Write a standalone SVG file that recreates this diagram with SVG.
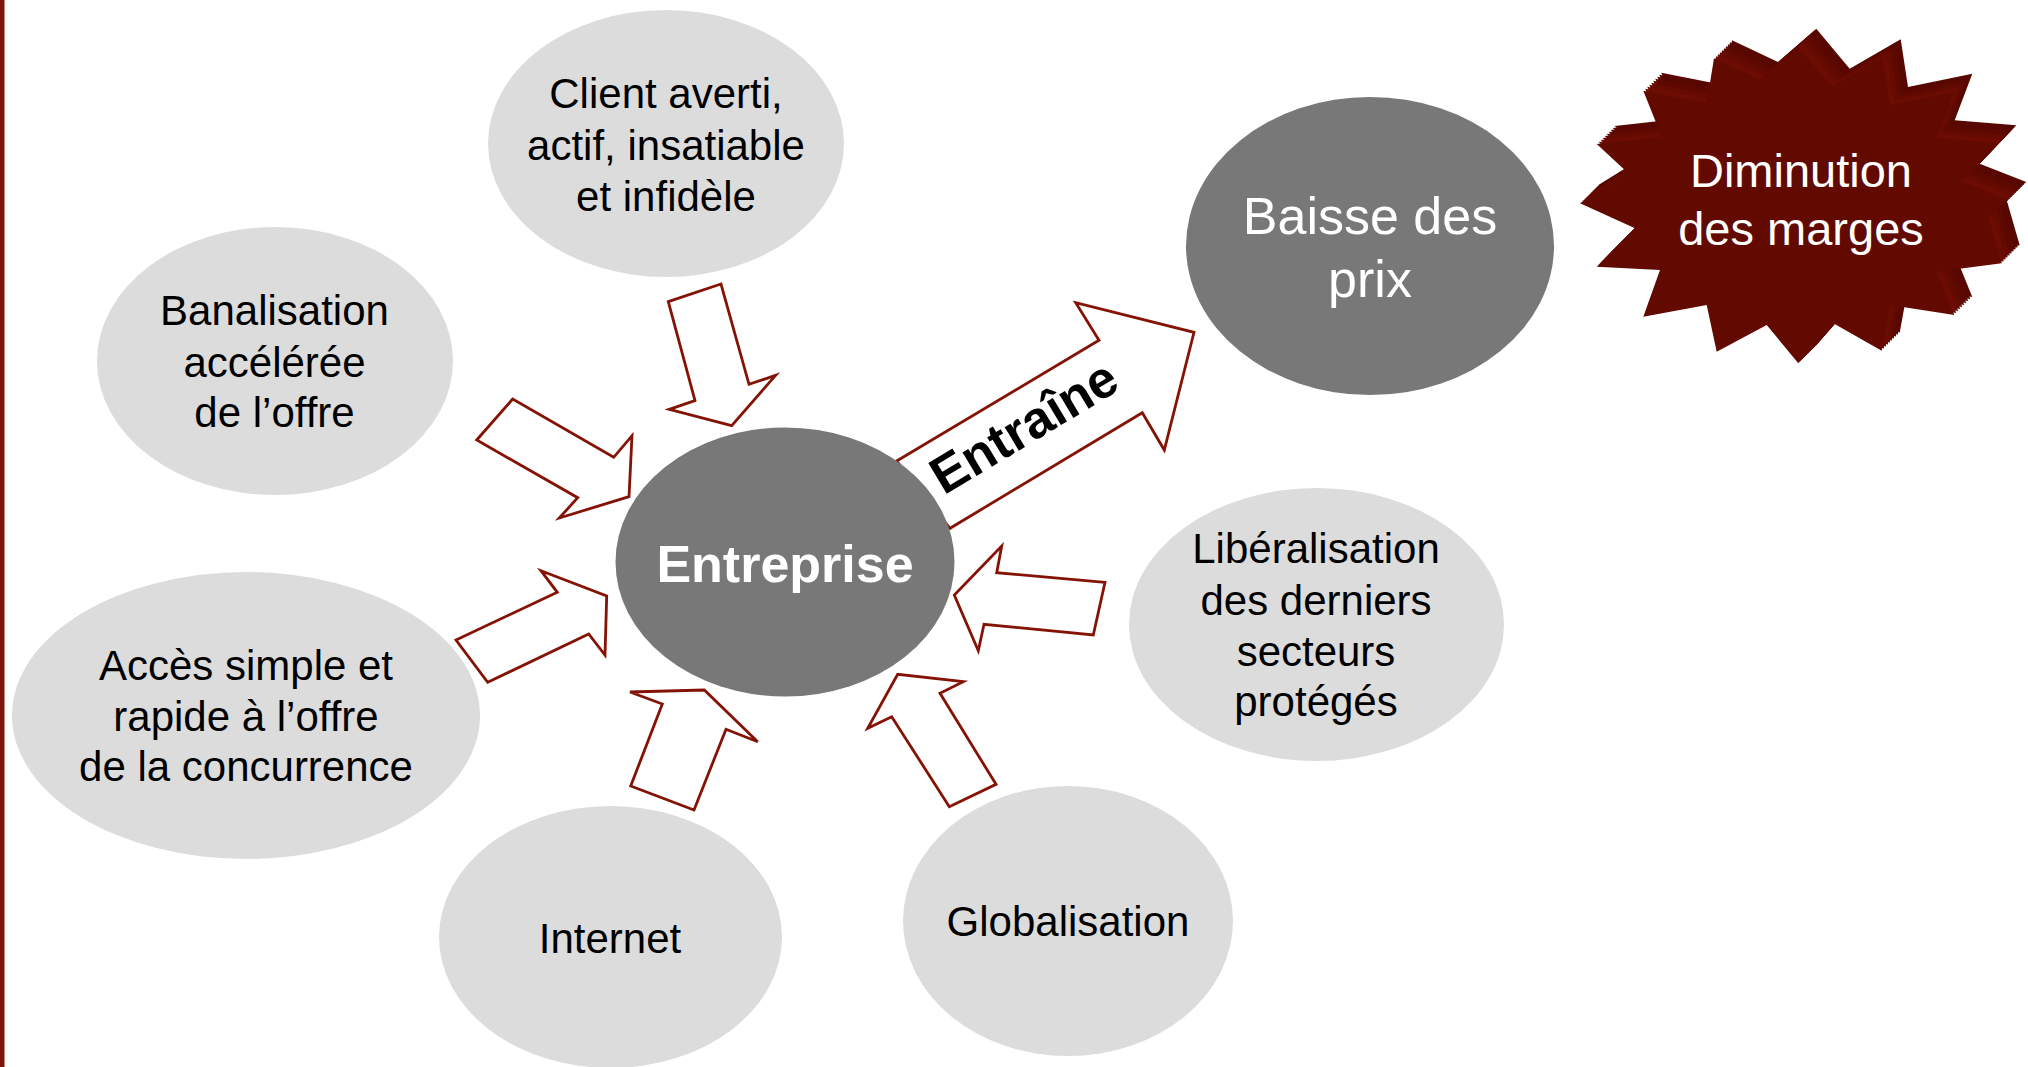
<svg xmlns="http://www.w3.org/2000/svg" xmlns:xlink="http://www.w3.org/1999/xlink" width="2028" height="1067" viewBox="0 0 2028 1067">
<style>
.light{fill:#dcdcdc;}
.dark{fill:#787878;}
.arrow{fill:#ffffff;stroke:#841306;stroke-width:2.8;stroke-linejoin:miter;}
.t{font-family:"Liberation Sans",Arial,sans-serif;font-size:42px;fill:#000;text-anchor:middle;}
.tw{font-family:"Liberation Sans",Arial,sans-serif;fill:#fff;text-anchor:middle;}
.side{fill:#580800;}
</style>
<defs>
<polygon id="star" points="1798.3,46.7 1831.7,86.7 1882.7,57.3 1890,105 1954.3,91.7 1936.7,138.3 1998.3,143.3 1961.7,181.7 2008.3,200 1988.3,216.7 2001.7,263.3 1936.7,271.7 1954.3,315 1890,305 1881.7,350.7 1833.3,323.3 1798.3,363.3 1766.7,325 1716.7,351.7 1706.7,305 1643.3,316.7 1660,270 1596.7,266.7 1635,228.3 1580,203.3 1628.3,173.3 1596.7,144 1661.7,136.7 1643.3,90.7 1706.7,103.3 1714,58.3 1760,80"/>
</defs>
<rect x="0" y="0" width="2028" height="1067" fill="#ffffff"/>
<rect x="0" y="0" width="4.5" height="1067" fill="#7f1509"/>

<g id="connectors">
<polygon class="arrow" points="896.7,461 1099,340.3 1075.7,302.7 1194,332.3 1164.3,450 1142.3,412.7 950,528.3"/>
<text class="tw" style="fill:#000;font-weight:bold;font-size:52px" transform="translate(1033,442) rotate(-31)" x="0" y="0">Entraîne</text>
<polygon class="arrow" points="512.7,399 476.7,440 577.7,497.7 559.3,518 629,496.7 632,435.7 613.7,457.3"/>
<polygon class="arrow" points="668.3,301.7 721,284 749,384.3 775.7,375.3 731.7,425.7 669.3,409.3 695,400.7"/>
<polygon class="arrow" points="456,640 557.3,592.3 541,570.7 606.7,596 605,655 588.7,634 487.7,682.3"/>
<polygon class="arrow" points="630.7,786 662.3,704 630,692 704.3,690 757.7,741.7 726,729.3 694,810"/>
<polygon class="arrow" points="996,784.3 940,693.3 963.3,681.7 897.7,674.3 867.7,728.3 891.7,716.7 949.3,806.7"/>
<polygon class="arrow" points="1105,582.3 996.7,572.7 1001.7,546 954.3,595 978.3,650.7 984,624.3 1093.3,635"/>
</g>

<g id="node-client">
<ellipse class="light" cx="666" cy="143.5" rx="178" ry="133.5"/>
<text class="t" x="666" y="107.5">Client averti,</text>
<text class="t" x="666" y="159.5">actif, insatiable</text>
<text class="t" x="666" y="210.5">et infidèle</text>
</g>

<g id="node-banalisation">
<ellipse class="light" cx="275" cy="361" rx="178" ry="134"/>
<text class="t" x="274.5" y="325">Banalisation</text>
<text class="t" x="274.5" y="376.5">accélérée</text>
<text class="t" x="274.5" y="427">de l’offre</text>
</g>

<g id="node-acces">
<ellipse class="light" cx="246" cy="715.5" rx="234" ry="143.5"/>
<text class="t" x="246" y="680">Accès simple et</text>
<text class="t" x="246" y="731">rapide à l’offre</text>
<text class="t" x="246" y="781">de la concurrence</text>
</g>

<g id="node-internet">
<ellipse class="light" cx="610.5" cy="937" rx="171.5" ry="131"/>
<text class="t" x="610" y="953">Internet</text>
</g>

<g id="node-globalisation">
<ellipse class="light" cx="1068" cy="921" rx="165" ry="135"/>
<text class="t" x="1068" y="936">Globalisation</text>
</g>

<g id="node-liberalisation">
<ellipse class="light" cx="1316.5" cy="624.5" rx="187.5" ry="136.5"/>
<text class="t" x="1316" y="563">Libéralisation</text>
<text class="t" x="1316" y="615">des derniers</text>
<text class="t" x="1316" y="666">secteurs</text>
<text class="t" x="1316" y="716">protégés</text>
</g>

<g id="node-entreprise">
<ellipse class="dark" cx="785" cy="562" rx="169.5" ry="134.5"/>
<text class="tw" x="785" y="582" style="font-size:52px;font-weight:bold">Entreprise</text>
</g>

<g id="node-baisse">
<ellipse class="dark" cx="1370" cy="246" rx="184" ry="149"/>
<text class="tw" x="1370" y="234" style="font-size:52px">Baisse des</text>
<text class="tw" x="1370" y="297" style="font-size:52px">prix</text>
</g>

<g id="node-diminution">
<use xlink:href="#star" class="side" transform="translate(18,-18)"/>
<use xlink:href="#star" class="side" transform="translate(16,-16)"/>
<use xlink:href="#star" class="side" transform="translate(14,-14)"/>
<use xlink:href="#star" style="fill:#5e0900" transform="translate(12,-12)"/>
<use xlink:href="#star" style="fill:#5e0900" transform="translate(10,-10)"/>
<use xlink:href="#star" style="fill:#650b02" transform="translate(8,-8)"/>
<use xlink:href="#star" style="fill:#650b02" transform="translate(6,-6)"/>
<use xlink:href="#star" style="fill:#6c0c03" transform="translate(4,-4)"/>
<use xlink:href="#star" style="fill:#6c0c03" transform="translate(2,-2)"/>
<use xlink:href="#star" style="fill:#620a00"/>
<text class="tw" x="1801" y="186.5" style="font-size:47px">Diminution</text>
<text class="tw" x="1801" y="245" style="font-size:47px">des marges</text>
</g>
</svg>
